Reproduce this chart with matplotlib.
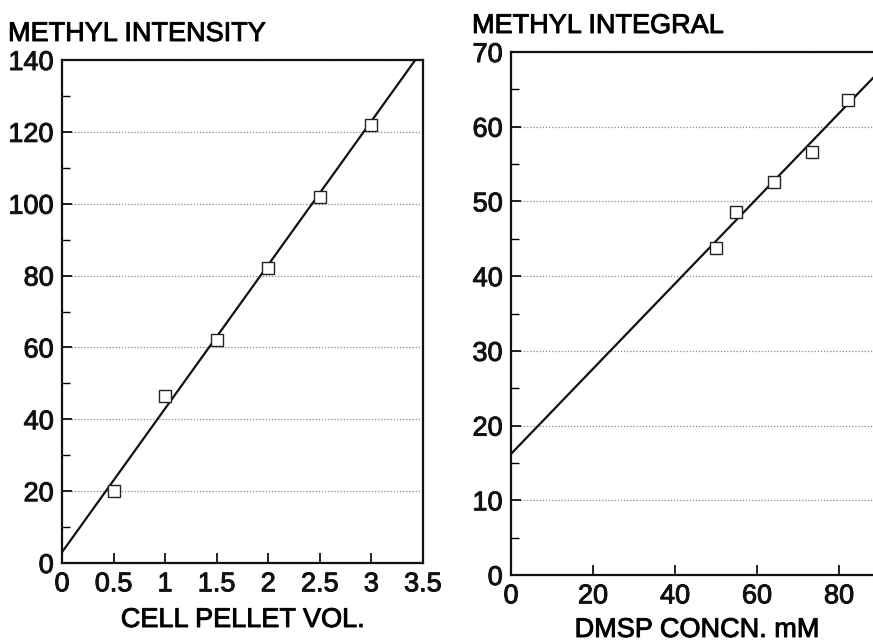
import matplotlib
matplotlib.use("Agg")
import matplotlib.pyplot as plt
import matplotlib.patheffects as pe
import numpy as np
from matplotlib.ticker import MultipleLocator

plt.rcParams['font.family'] = ['Liberation Sans', 'DejaVu Sans']

# Left panel data
pellet_vol = [0.5, 1.0, 1.5, 2.0, 2.5, 3.0]
methyl_intensity = [20, 46.5, 62, 82, 102, 122]
fit_left_x = [0, 3.5]
fit_left_intercept = 3.0
fit_left_slope = 40.0

# Right panel data
dmsp_conc = [50.0, 54.8, 64.1, 73.3, 82.3]
methyl_integral = [43.8, 48.6, 52.6, 56.6, 63.6]
fit_right_x = [0, 90]
fit_right_intercept = 16.2
fit_right_slope = 0.57

W, H = 873, 643
FS = 19.5
thick = [pe.withStroke(linewidth=0.7, foreground='#111111')]

fig = plt.figure(figsize=(W/100, H/100), dpi=100)

def px_axes(l, t, r, b):
    return fig.add_axes([l/W, (H-b)/H, (r-l)/W, (b-t)/H])

def style(ax):
    for s in ax.spines.values():
        s.set_linewidth(1.6)
        s.set_color('#111111')
    ax.tick_params(axis='both', which='major', direction='in', length=7, width=1.3,
                   labelsize=FS, colors='#111111')
    ax.tick_params(axis='y', which='minor', direction='in', length=6, width=1.0)
    ax.tick_params(axis='x', which='major', pad=6)
    ax.tick_params(axis='y', which='major', pad=6)
    ax.grid(axis='y', which='major', linestyle=(0, (1, 1.5)), color='#888888', linewidth=0.9)
    for lab in ax.get_xticklabels() + ax.get_yticklabels():
        lab.set_path_effects(thick)

# Left
ax1 = px_axes(62, 60, 423, 563)
ax1.set_xlim(0, 3.5)
ax1.set_ylim(0, 140)
ax1.yaxis.set_major_locator(MultipleLocator(20))
ax1.yaxis.set_minor_locator(MultipleLocator(10))
ax1.set_xticks([0, 0.5, 1, 1.5, 2, 2.5, 3, 3.5])
ax1.set_xticklabels(['0', '0.5', '1', '1.5', '2', '2.5', '3', '3.5'])
style(ax1)
xl = np.array(fit_left_x)
ax1.plot(xl, fit_left_intercept + fit_left_slope * xl, color='#111111', lw=1.6)
ax1.plot(pellet_vol, methyl_intensity, linestyle='none', marker='s', ms=8,
         mfc='white', mec='#222222', mew=1.0)
fig.text(243/W, 1 - 627/H, 'CELL PELLET VOL.', fontsize=FS, ha='center', va='baseline',
         path_effects=thick)
fig.text(8/W, 1 - 41/H, 'METHYL INTENSITY', fontsize=FS, ha='left', va='baseline',
         path_effects=thick)

# Right
ax2 = px_axes(511, 52, 880, 575)
ax2.set_xlim(0, 90)
ax2.set_ylim(0, 70)
ax2.set_xticks([0, 20, 40, 60, 80])
ax2.yaxis.set_major_locator(MultipleLocator(10))
ax2.yaxis.set_minor_locator(MultipleLocator(5))
style(ax2)
xr = np.array(fit_right_x)
ax2.plot(xr, fit_right_intercept + fit_right_slope * xr, color='#111111', lw=1.6)
ax2.plot(dmsp_conc, methyl_integral, linestyle='none', marker='s', ms=8,
         mfc='white', mec='#222222', mew=1.0)
fig.text(697/W, 1 - 637/H, 'DMSP CONCN. mM', fontsize=FS, ha='center', va='baseline',
         path_effects=thick)
fig.text(472/W, 1 - 33/H, 'METHYL INTEGRAL', fontsize=FS, ha='left', va='baseline',
         path_effects=thick)

fig.savefig('out.png', dpi=100)
